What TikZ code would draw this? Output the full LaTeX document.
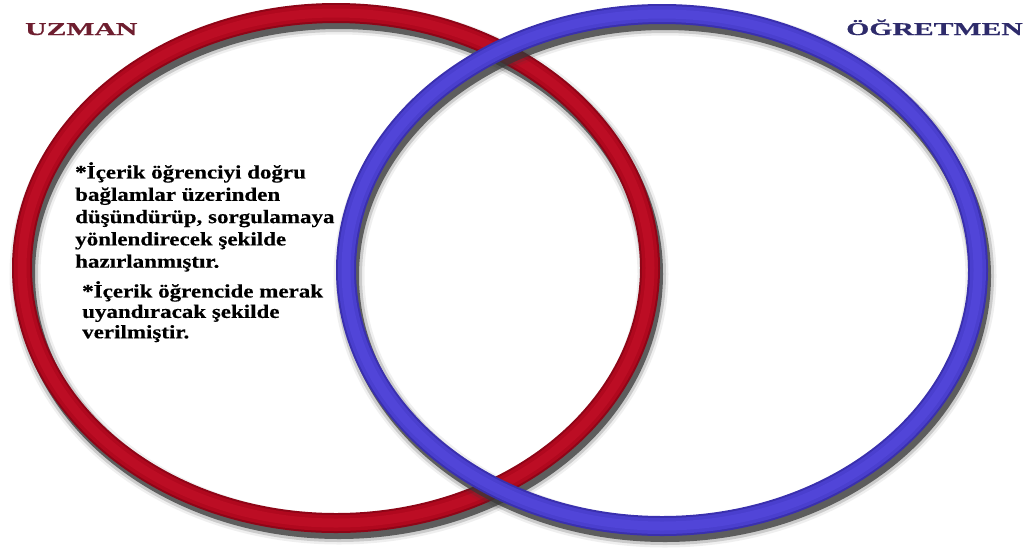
\documentclass[tikz,border=0pt]{standalone}
\usepackage{fontspec}
\usetikzlibrary{positioning}
\newfontfamily\govde[FakeStretch=1.21, BoldFeatures={FakeBold=0.4}]{Liberation Serif}
\newfontfamily\baslik[FakeStretch=1.65, BoldFeatures={FakeBold=0.5}]{Liberation Serif}
\definecolor{uzred}{HTML}{B0081E}
\definecolor{uzreddark}{HTML}{8E0517}
\definecolor{uzredlight}{HTML}{BC0D24}
\definecolor{ogblue}{HTML}{4A3FCE}
\definecolor{ogbluedark}{HTML}{3A30AE}
\definecolor{ogbluelight}{HTML}{5145D8}
\definecolor{uzbaslik}{HTML}{6E1E2F}
\definecolor{ogbaslik}{HTML}{2E2B6B}
\definecolor{golge}{HTML}{383838}
\tikzset{
  golgehalka/.style={golge, line width=20pt, opacity=0.75},
  golgeblur/.style={golge, line width=26pt, opacity=0.2},
  golgeblur2/.style={golge, line width=31pt, opacity=0.08},
  madde/.style={font=\govde\bfseries\fontsize{19}{22.3}\selectfont, align=left, inner sep=0pt, anchor=north west},
  baslikyazi/.style={font=\baslik\bfseries\fontsize{18}{20}\selectfont, inner sep=0pt}
}

\begin{document}
\begin{tikzpicture}[x=1pt, y=-1pt]
    \useasboundingbox (0,0) rectangle (1033,547);
    \coordinate (uzmanmerkez) at (336,268);
    \coordinate (ogretmenmerkez) at (662,270);
    % uzman halkasi
    \draw[golgeblur2] ([shift={(3,6)}]uzmanmerkez) ellipse [x radius=314, y radius=255];
    \draw[golgeblur] ([shift={(3,6)}]uzmanmerkez) ellipse [x radius=314, y radius=255];
    \draw[golgehalka] ([shift={(3,6)}]uzmanmerkez) ellipse [x radius=314, y radius=255];
    \draw[uzreddark, line width=20pt] (uzmanmerkez) ellipse [x radius=314, y radius=255];
    \draw[uzred, line width=16pt] (uzmanmerkez) ellipse [x radius=314, y radius=255];
    \draw[uzredlight, line width=9pt] (uzmanmerkez) ellipse [x radius=314, y radius=255];
    % ogretmen halkasi
    \draw[golgeblur2] ([shift={(3,6)}]ogretmenmerkez) ellipse [x radius=316, y radius=256];
    \draw[golgeblur] ([shift={(3,6)}]ogretmenmerkez) ellipse [x radius=316, y radius=256];
    \draw[golgehalka] ([shift={(3,6)}]ogretmenmerkez) ellipse [x radius=316, y radius=256];
    \draw[ogbluedark, line width=20pt] (ogretmenmerkez) ellipse [x radius=316, y radius=256];
    \draw[ogblue, line width=16pt] (ogretmenmerkez) ellipse [x radius=316, y radius=256];
    \draw[ogbluelight, line width=9pt] (ogretmenmerkez) ellipse [x radius=316, y radius=256];
    % basliklar
    \node[baslikyazi, text=uzbaslik, anchor=base west] (uzman) at (25,35) {UZMAN};
    \node[baslikyazi, text=ogbaslik, anchor=base east] (ogretmen) at (1023,35) {ÖĞRETMEN};
    % maddeler
    \node[madde] (madde1) at (75,162) {*İçerik öğrenciyi doğru\\bağlamlar üzerinden\\düşündürüp, sorgulamaya\\yönlendirecek şekilde\\hazırlanmıştır.};
    \node[madde, font=\govde\bfseries\fontsize{19}{20.4}\selectfont] (madde2) at (82,281) {*İçerik öğrencide merak\\uyandıracak şekilde\\verilmiştir.};
\end{tikzpicture}
\end{document}
